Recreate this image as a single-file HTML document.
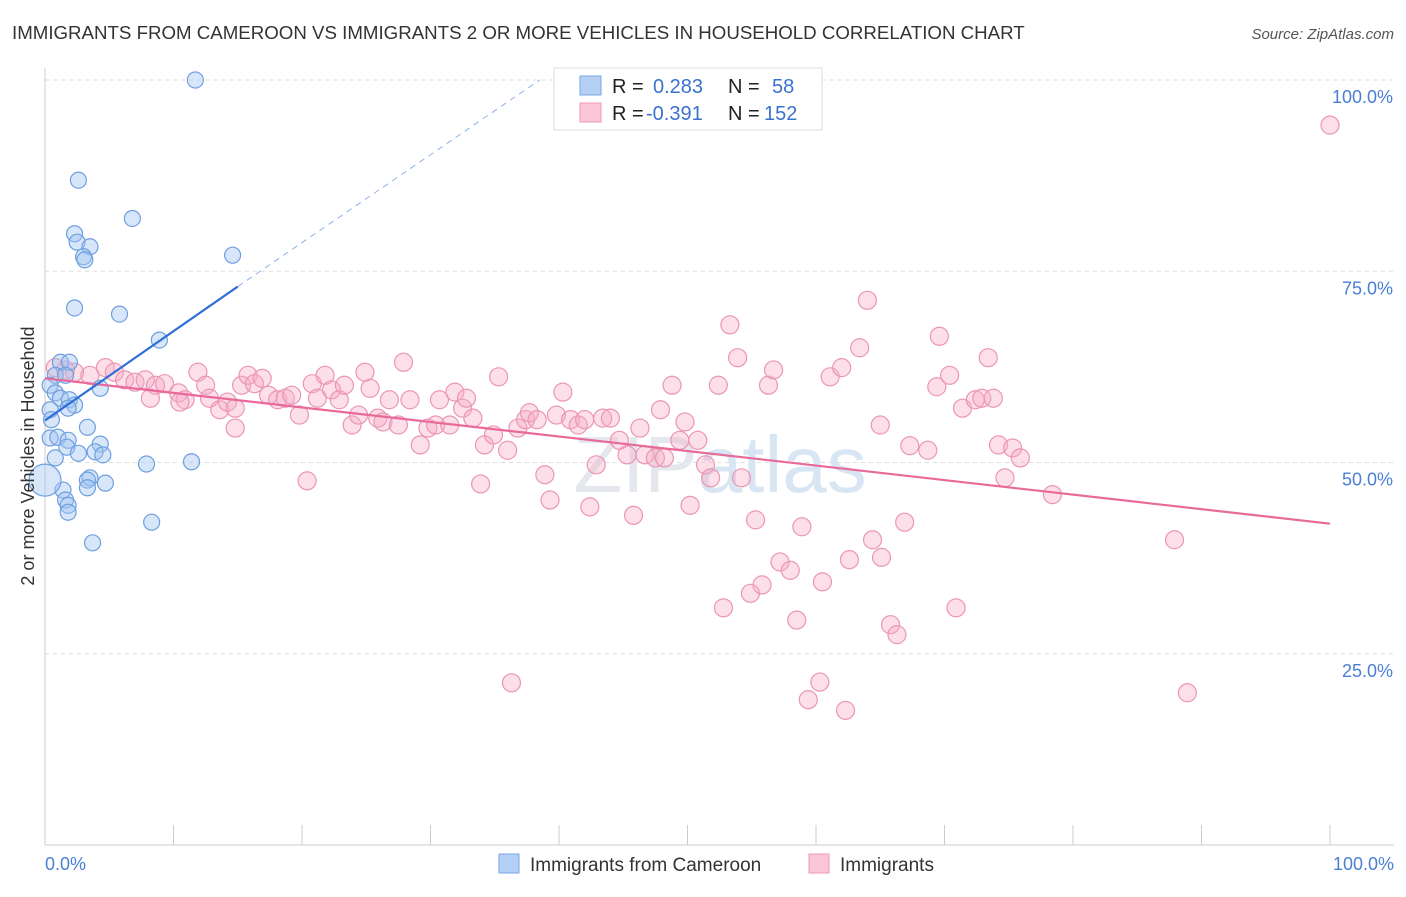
<!DOCTYPE html>
<html><head><meta charset="utf-8"><style>
body{margin:0;background:#fff;font-family:"Liberation Sans",sans-serif}
svg text{font-family:"Liberation Sans",sans-serif}
</style></head><body>
<svg id="chart" width="1406" height="892" xmlns="http://www.w3.org/2000/svg">
<text x="12" y="39" font-size="18.7" fill="#333">IMMIGRANTS FROM CAMEROON VS IMMIGRANTS 2 OR MORE VEHICLES IN HOUSEHOLD CORRELATION CHART</text>
<text x="1394" y="39" font-size="15" fill="#555" font-style="italic" text-anchor="end">Source: ZipAtlas.com</text>
<g id="grid"></g>
<text x="720" y="492" font-size="80" fill="#e4e8ee" text-anchor="middle" font-family="Liberation Serif">ZIP<tspan fill="#d8e6f4" font-family="Liberation Sans">atlas</tspan></text>
<g id="pink"></g>
<g id="blue"></g>
<g id="trends"></g>
<text transform="translate(34,456) rotate(-90)" font-size="18" fill="#333" text-anchor="middle">2 or more Vehicles in Household</text>
<text x="45" y="870" font-size="18" fill="#4a7fd4">0.0%</text>
<text x="1394" y="870" font-size="18" fill="#4a7fd4" text-anchor="end">100.0%</text>
<g>
<rect x="554" y="68" width="268" height="62" fill="#fff" stroke="#ddd"/>
<rect x="580" y="76" width="21" height="19" fill="#b5d0f5" stroke="#7aa6e6"/>
<rect x="580" y="103" width="21" height="19" fill="#fbc6d6" stroke="#ee9ab5"/>
<text x="612" y="93" font-size="20" fill="#222">R = </text><text x="653" y="93" font-size="20" fill="#3a72d0">0.283</text>
<text x="728" y="93" font-size="20" fill="#222">N = </text><text x="772" y="93" font-size="20" fill="#3a72d0">58</text>
<text x="612" y="120" font-size="20" fill="#222">R = </text><text x="646" y="120" font-size="20" fill="#3a72d0">-0.391</text>
<text x="728" y="120" font-size="20" fill="#222">N = </text><text x="764" y="120" font-size="20" fill="#3a72d0">152</text>
</g>
<g>
<rect x="499" y="854" width="20" height="19" fill="#b5d0f5" stroke="#7aa6e6"/>
<text x="530" y="871" font-size="19" fill="#333">Immigrants from Cameroon</text>
<rect x="809" y="854" width="20" height="19" fill="#fbc6d6" stroke="#ee9ab5"/>
<text x="840" y="871" font-size="19" fill="#333">Immigrants</text>
</g>
</svg>
<script>
const yTicks=[25,50,75,100];
const yTickLabels=["25.0%","50.0%","75.0%","100.0%"];
const xTicks=[0,10,20,30,40,50,60,70,80,90,100];
const blueX=[11.7,2.6,6.8,2.3,2.5,3.5,3.0,3.1,14.6,2.3,5.8,8.9,1.2,1.9,0.8,0.4,1.6,4.3,0.8,1.2,1.9,2.3,1.8,0.4,0.5,3.3,0.4,1.0,1.8,4.3,1.7,2.6,3.9,4.5,0.8,7.9,11.4,3.5,3.3,4.7,3.3,1.4,1.6,1.8,1.8,8.3,3.7,0];
const blueY=[100,86.9,81.9,79.9,78.8,78.2,76.9,76.5,77.1,70.2,69.4,66.0,63.1,63.1,61.4,60.1,61.4,59.7,59.1,58.4,58.2,57.5,57.1,56.9,55.6,54.6,53.2,53.3,52.9,52.4,52.0,51.2,51.4,51.0,50.6,49.8,50.1,48.0,47.7,47.3,46.7,46.4,45.1,44.4,43.5,42.2,39.5,47.7];
const pinkX=[100,64.0,53.3,69.6,53.9,63.4,73.4,27.9,35.3,0.8,1.6,2.3,3.5,4.7,5.4,6.2,7.0,7.8,8.6,9.3,10.4,10.9,11.9,12.5,12.8,13.6,14.2,14.8,15.3,15.8,16.3,16.9,17.4,18.1,18.7,19.2,19.8,20.8,21.2,21.8,22.3,22.9,23.3,23.9,24.4,24.9,25.3,25.9,26.3,26.8,27.5,28.4,29.2,29.8,30.4,30.7,31.5,31.9,32.5,32.8,33.3,34.2,34.9,36.0,36.8,37.4,37.7,38.3,38.9,39.3,39.8,40.3,40.9,41.5,42.0,42.4,42.9,43.4,44.0,44.7,45.3,45.8,46.3,46.7,47.5,47.9,48.2,48.8,49.4,49.8,50.2,50.8,51.4,51.8,52.4,52.8,54.2,55.3,54.9,55.8,56.3,56.7,57.2,58.0,58.5,58.9,59.4,60.3,60.5,61.1,62.0,62.3,62.6,64.4,65.0,65.1,65.8,66.3,66.9,67.3,68.7,69.4,70.4,70.9,71.4,72.4,72.9,73.8,74.2,74.7,75.3,75.9,78.4,87.9,88.9,36.3,33.9,20.4,14.8,8.2,10.5];
const pinkY=[94.1,71.2,68.0,66.5,63.7,65.0,63.7,63.1,61.2,62.4,62.1,61.8,61.4,62.4,61.8,60.8,60.5,60.8,60.1,60.3,59.1,58.2,61.8,60.1,58.4,56.9,57.9,57.1,60.1,61.4,60.3,61.0,58.8,58.2,58.4,58.8,56.2,60.3,58.4,61.4,59.5,58.2,60.1,54.9,56.2,61.8,59.7,55.8,55.3,58.2,54.9,58.2,52.3,54.5,54.9,58.2,54.9,59.2,57.1,58.4,55.8,52.3,53.6,51.6,54.5,55.6,56.5,55.6,48.4,45.1,56.2,59.2,55.6,54.9,55.6,44.2,49.7,55.8,55.8,52.9,51.0,43.1,54.5,51.0,50.6,56.9,50.6,60.1,52.9,55.3,44.4,52.9,49.7,48.0,60.1,31.0,48.0,42.5,32.9,34.0,60.1,62.1,37.0,35.9,29.4,41.6,19.0,21.3,34.4,61.2,62.4,17.6,37.3,39.9,54.9,37.6,28.8,27.5,42.2,52.2,51.6,59.9,61.4,31.0,57.1,58.2,58.4,58.4,52.3,48.0,51.9,50.6,45.8,39.9,19.9,21.2,47.2,47.6,54.5,58.4,57.9];
const blueTrend=[[0,55.5],[15,73]];
const blueTrendDash=[[15,73],[38.5,100]];
const pinkTrend=[[0,61],[100,42]];
const NS="http://www.w3.org/2000/svg";
const X=v=>45+v*12.85, Y=v=>845-v*7.65;
function mk(t,a,p){const e=document.createElementNS(NS,t);for(const k in a)e.setAttribute(k,a[k]);p.appendChild(e);return e;}
const g=document.getElementById('grid');
yTicks.forEach((t,i)=>{const l=mk('line',{x1:45,x2:1394,y1:Y(t),y2:Y(t),stroke:'#ddd','stroke-dasharray':'4,4'},g);

const tx=mk('text',{x:1393,y:Y(t)+23,'font-size':18,fill:'#4a7fd4','text-anchor':'end'},g);tx.textContent=yTickLabels[i];
});
const ax=mk('line',{x1:45,x2:45,y1:68,y2:845,stroke:'#ccc'},g);

const bx=mk('line',{x1:45,x2:1394,y1:845,y2:845,stroke:'#ccc'},g);

xTicks.forEach(t=>{const l=mk('line',{x1:X(t),x2:X(t),y1:825,y2:845,stroke:'#ccc'},g);
});
const pg=document.getElementById('pink');
pinkX.forEach((x,i)=>{const c=mk('circle',{cx:X(x),cy:Y(pinkY[i]),r:9,fill:'rgba(246,172,198,0.38)',stroke:'#eb96b4','stroke-width':1.2},pg);
});
const bg=document.getElementById('blue');
blueX.forEach((x,i)=>{const c=mk('circle',{cx:X(x),cy:Y(blueY[i]),r:i==blueX.length-1?16:8,fill:'rgba(160,196,240,0.42)',stroke:'#6e9fe0','stroke-width':1.2},bg);
});
const tg=document.getElementById('trends');
function ln(d,col,w,dash,name){const l=mk('line',{x1:X(d[0][0]),y1:Y(d[0][1]),x2:X(d[1][0]),y2:Y(d[1][1]),stroke:col,'stroke-width':w},tg);if(dash)l.setAttribute('stroke-dasharray',dash);
}
ln(pinkTrend,'#e8699a',2.2,null,'immigrants-trend-line');
ln(blueTrend,'#2f6fd6',2.2,null,'cameroon-trend-line');
ln(blueTrendDash,'#8fb2e6',1,'6,5','cameroon-trend-extension');
</script>
</body></html>
